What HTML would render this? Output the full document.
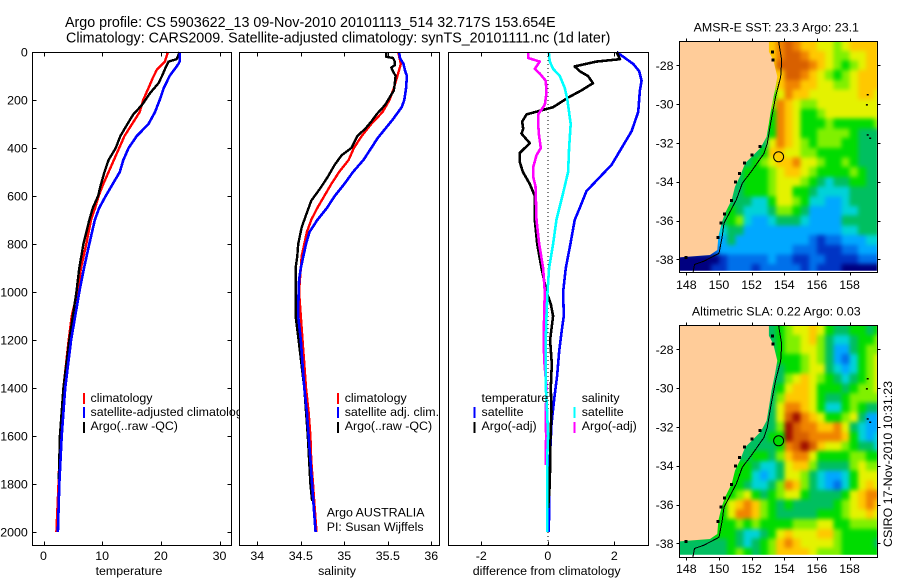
<!DOCTYPE html>
<html>
<head>
<meta charset="utf-8">
<title>Argo profile</title>
<style>
html,body{margin:0;padding:0;background:#fff}
svg{display:block}
text{font-family:"Liberation Sans",sans-serif;font-size:12.4px;fill:#000}
</style>
</head>
<body>
<svg id="fig" xmlns="http://www.w3.org/2000/svg" width="900" height="580" viewBox="0 0 900 580">
<defs>
<filter id="map-smooth" filterUnits="userSpaceOnUse" x="640" y="0" width="260" height="580" color-interpolation-filters="sRGB"><feGaussianBlur stdDeviation="2.2"/></filter>
</defs>
<rect x="0" y="0" width="900" height="580" fill="#fff"/>
<text x="65" y="27" style="font-size:14.3px">Argo profile: CS 5903622_13 09-Nov-2010 20101113_514 32.717S 153.654E</text>
<text x="66" y="42.5" style="font-size:14.3px">Climatology: CARS2009. Satellite-adjusted climatology: synTS_20101111.nc (1d later)</text>
<g id="layer"></g>
</svg>
<script>
const _ = null;
// temperature panel
const depthTempClim = [0,40,75,110,150,200,250,300,350,400,450,500,550,600,650,700,800,900,1000,1100,1200,1400,1600,1800,2000];
const tempClim = [21.2,20.7,19.3,18.6,17.9,17,16.4,15.1,13.8,12.9,12,11.1,10.2,9.4,8.8,8.1,7.3,6.4,5.8,4.8,4.3,3.4,2.85,2.55,2.2];
const depthTempSat = [0,40,50,100,150,200,250,300,350,400,450,500,550,600,650,700,800,900,1000,1100,1200,1400,1600,1800,2000];
const tempSat = [23.2,23.2,23,21.5,20.5,19.8,19,17.9,15.9,14.5,13.6,13,11.8,10.6,9.5,8.75,7.8,6.9,6.1,5.4,4.7,3.7,3.1,2.7,2.45];
const depthTempArgo = [0,30,40,60,100,130,170,220,260,300,350,400,450,500,550,600,650,700,800,900,1000,1200,1400,1600,1780];
const tempArgo = [23.2,22.7,21.3,20.9,20.2,19.6,18.2,16.8,15.3,14.3,13.1,12.3,11.1,10.4,9.8,9.3,8.4,7.8,6.8,6.1,5.6,4.4,3.4,2.8,2.6];
// salinity panel
const depthSalClim = [0,50,100,150,200,250,300,350,400,450,500,550,600,650,700,750,800,850,900,950,1000,1100,1200,1300,1400,1500,1600,1700,1800,1900,2000];
const salClim = [35.62,35.65,35.61,35.57,35.52,35.44,35.31,35.2,35.11,35.05,34.94,34.85,34.77,34.69,34.62,34.57,34.54,34.51,34.5,34.49,34.48,34.5,34.52,34.54,34.56,34.59,34.61,34.62,34.64,34.66,34.68];
const depthSalSat = [0,25,50,80,100,150,200,230,280,320,360,400,450,500,550,600,650,700,750,800,850,900,950,1000,1100,1200,1300,1400,1500,1600,1700,1800,1900,2000];
const salSat = [35.63,35.64,35.68,35.7,35.72,35.71,35.69,35.66,35.56,35.47,35.38,35.31,35.22,35.1,35,34.89,34.8,34.69,34.6,34.56,34.53,34.5,34.48,34.475,34.47,34.5,34.52,34.54,34.57,34.59,34.61,34.63,34.65,34.67];
const depthSalArgo = [0,20,25,40,55,65,80,100,130,160,190,220,260,290,320,350,400,430,470,520,570,620,680,730,800,850,900,1000,1100,1200,1400,1600,1800,1870];
const salArgo = [35.48,35.48,35.56,35.58,35.58,35.54,35.56,35.59,35.58,35.57,35.52,35.47,35.37,35.31,35.24,35.15,35.08,34.97,34.89,34.81,34.72,34.62,34.56,34.51,34.47,34.46,34.44,34.44,34.44,34.475,34.54,34.58,34.61,34.63];
// difference panel
const depthDiffSalSat = [0,40,70,100,150,200,300,400,500,600,700,800,900,1000,1100,1200,1400,1500,1600,1700,2000];
const diffSalSat = [0.03,0.06,0.16,0.36,0.51,0.59,0.69,0.64,0.61,0.44,0.26,0.16,0.04,-0.01,-0.04,-0.06,-0.06,-0.02,0.01,-0.02,-0.02];
const depthDiffTempSat = [0,10,50,80,120,160,250,330,400,470,500,580,650,700,800,900,1000,1100,1150,1250,1350,1450,1550,1700,2000];
const diffTempSat = [2.07,2.17,2.57,2.75,2.82,2.77,2.72,2.52,2.22,1.92,1.71,1.16,0.96,0.81,0.68,0.54,0.46,0.48,0.43,0.34,0.28,0.19,0.11,0.06,0.03];
const depthDiffTempArgo = [0,30,40,60,80,100,130,160,190,230,260,290,320,340,380,420,460,500,550,600,700,800,900,1000,1050,1100,1200,1300,1400,1500,1600,1800,1900];
const diffTempArgo = [2.07,2.17,1.46,0.81,0.96,1.21,1.36,1.01,0.61,0.16,-0.64,-0.77,-0.74,-0.79,-0.54,-0.84,-0.84,-0.75,-0.54,-0.39,-0.39,-0.32,-0.19,-0.04,0.09,0.16,0.07,0.12,0.09,0.11,0.08,0.06,0.01];
const depthDiffSalArgo = [0,25,40,70,90,120,170,220,260,300,340,400,430,480,520,560,700,800,900,1000,1100,1230,1300,1400,1500,1600,1720];
const diffSalArgo = [-0.59,-0.59,-0.24,-0.39,-0.24,-0.06,-0.04,-0.09,-0.29,-0.29,-0.27,-0.21,-0.34,-0.44,-0.44,-0.37,-0.34,-0.26,-0.14,-0.09,-0.11,-0.12,-0.1,-0.04,-0.06,-0.05,-0.06];
const diffZeroDepths = [0,2054];
// tick labels
const depthTicks = [0,200,400,600,800,1000,1200,1400,1600,1800,2000];
const tempTicks = [0,10,20,30];
const salTicks = [34,34.5,35,35.5,36];
const diffTicks = [-2,0,2];
const lonTicks = [148,150,152,154,156,158];
const latTicks = [-28,-30,-32,-34,-36,-38];
// map fields: colour level per half-degree cell (west to east, north to south)
const sstRows = [
[_,_,_,_,_,_,_,_,_,_,_,9,10,11,10,9,9,8,8,7,8,9,9,9,9],
[_,_,_,_,_,_,_,_,_,_,_,9,10,11,11,10,9,9,8,7,7,8,8,9,9],
[_,_,_,_,_,_,_,_,_,_,_,9,11,11,11,11,10,9,8,7,6,7,8,9,9],
[_,_,_,_,_,_,_,_,_,_,_,9,9,11,11,10,9,8,7,6,7,8,9,9,9],
[_,_,_,_,_,_,_,_,_,_,_,7,9,10,10,9,9,8,8,7,7,8,9,9,9],
[_,_,_,_,_,_,_,_,_,_,_,6,8,10,9,9,8,8,8,8,8,8,9,9,8],
[_,_,_,_,_,_,_,_,_,_,_,7,10,9,8,7,7,8,8,8,8,8,8,8,8],
[_,_,_,_,_,_,_,_,_,_,_,6,10,9,8,6,6,7,8,8,8,8,8,8,8],
[_,_,_,_,_,_,_,_,_,_,_,6,10,9,8,6,6,6,7,6,6,6,6,6,7],
[_,_,_,_,_,_,_,_,_,_,5,6,10,9,8,6,6,7,7,7,7,6,5,5,5],
[_,_,_,_,_,_,_,_,_,_,5,8,10,9,8,7,6,7,7,7,6,6,5,5,5],
[_,_,_,_,_,_,_,_,_,5,6,9,9,8,8,7,7,6,6,6,6,6,5,5,5],
[_,_,_,_,_,_,_,_,5,6,7,8,9,9,10,8,8,7,6,6,7,6,5,5,5],
[_,_,_,_,_,_,_,5,6,6,6,7,8,9,9,8,7,6,6,6,6,7,6,5,5],
[_,_,_,_,_,_,5,5,6,6,6,7,8,8,8,7,6,5,4,5,5,6,6,5,5],
[_,_,_,_,_,_,5,5,6,6,6,7,8,8,6,6,5,4,4,4,4,5,5,5,5],
[_,_,_,_,_,_,5,5,5,4,4,6,8,8,7,6,4,4,3,3,4,5,5,5,5],
[_,_,_,_,_,5,6,5,4,4,4,5,7,7,6,5,3,3,3,3,4,4,5,5,5],
[_,_,_,_,_,5,6,7,4,3,3,4,5,5,5,4,3,3,3,3,5,5,5,5,5],
[_,_,_,_,_,4,5,5,3,3,3,3,3,3,3,3,3,3,3,3,4,4,5,5,5],
[_,_,_,_,3,3,5,3,3,3,3,3,3,3,3,3,2,1,2,2,3,3,3,4,4],
[_,_,_,2,2,3,3,3,3,3,3,3,3,3,2,2,2,1,1,1,2,2,3,3,3],
[0,0,0,0,0,1,2,2,2,2,2,3,2,2,1,1,2,2,1,1,1,1,2,2,2],
[0,0,0,0,1,1,2,2,2,1,2,2,2,2,2,1,2,1,1,1,0,0,0,0,0]
];
const slaRows = [
[_,_,_,_,_,_,_,_,_,_,_,5,6,7,8,8,9,8,6,5,5,6,6,5,6],
[_,_,_,_,_,_,_,_,_,_,_,5,6,7,7,8,9,7,5,4,4,5,6,6,7],
[_,_,_,_,_,_,_,_,_,_,_,5,6,7,7,8,8,7,5,3,3,5,6,7,7],
[_,_,_,_,_,_,_,_,_,_,_,5,6,6,6,7,8,7,5,3,2,4,6,7,8],
[_,_,_,_,_,_,_,_,_,_,_,5,5,6,6,7,8,8,5,4,3,4,6,7,8],
[_,_,_,_,_,_,_,_,_,_,_,5,5,7,8,9,8,7,6,5,4,5,6,7,8],
[_,_,_,_,_,_,_,_,_,_,_,5,6,8,9,9,8,6,6,6,5,6,7,7,8],
[_,_,_,_,_,_,_,_,_,_,_,5,7,9,9,9,8,6,5,5,6,7,7,7,7],
[_,_,_,_,_,_,_,_,_,_,_,5,8,10,10,9,8,6,4,4,6,7,6,5,5],
[_,_,_,_,_,_,_,_,_,_,5,5,8,11,12,10,9,8,6,6,7,8,5,3,3],
[_,_,_,_,_,_,_,_,_,_,5,5,7,12,11,10,10,9,9,10,8,5,4,3,3],
[_,_,_,_,_,_,_,_,_,5,5,6,6,12,11,11,10,10,10,10,9,6,4,3,4],
[_,_,_,_,_,_,_,_,5,5,5,5,6,10,11,12,11,9,8,8,7,6,5,5,4],
[_,_,_,_,_,_,_,5,5,6,6,5,7,9,10,10,8,6,6,6,6,7,7,6,6],
[_,_,_,_,_,_,5,6,6,5,4,4,5,8,9,9,7,5,5,5,5,7,8,7,7],
[_,_,_,_,_,_,6,6,6,4,3,4,5,8,8,7,5,4,3,3,4,6,8,8,8],
[_,_,_,_,_,_,6,6,5,4,4,5,7,10,9,7,5,4,3,2,4,6,8,9,8],
[_,_,_,_,_,6,6,7,8,6,5,6,7,8,8,6,5,5,5,5,6,8,9,10,10],
[_,_,_,_,_,6,8,9,10,9,7,6,5,6,5,5,5,5,5,6,7,8,9,10,9],
[_,_,_,_,_,6,8,10,10,9,7,6,5,5,5,5,5,6,6,6,7,8,8,9,8],
[_,_,_,_,6,6,6,7,6,7,6,6,6,6,7,7,7,8,8,6,6,7,7,7,7],
[_,_,_,6,6,6,6,5,4,4,5,6,8,9,8,8,8,9,9,7,6,6,6,6,6],
[5,5,5,5,5,5,6,5,4,5,6,7,9,10,9,8,8,8,8,7,6,6,6,6,5],
[5,5,5,5,5,5,6,7,6,5,6,7,9,9,9,9,8,7,7,7,6,6,6,6,6]
];
const levelColors = ['#000080','#0034c4','#0070ea','#00a8ff','#00d2d8','#00bf60','#00dc00','#80f000','#e4f200','#ffc800','#f08400','#d86000','#a01000'];
// coastline, 200 m isobath, islands (lon, lat)
const coastLon = [153.06,153.06,153.33,153.57,153.43,153.22,153.06,152.92,152.55,152.05,151.6,151.3,150.98,150.78,150.37,150.16,149.96,149.9,149.45,147.57,147.4,147.4];
const coastLat = [-26.7,-27.3,-27.73,-28.58,-29.27,-30.13,-30.99,-31.68,-32.25,-32.68,-33.05,-33.7,-34.25,-34.94,-35.63,-36.14,-36.83,-37.52,-37.78,-37.9,-37.9,-26.7];
const isoLon = [153.64,153.84,153.78,153.47,153.16,152.96,152.76,152.04,151.43,151.06,150.31,150.2,150,149.08,148.5,148.4];
const isoLat = [-26.7,-27.73,-28.58,-29.62,-30.99,-32.02,-32.54,-33.4,-34.08,-34.94,-36.14,-36.83,-37.69,-38.1,-38.27,-38.75];
const coastSpeckLon = [153.3,153.35,152.55,152.05,151.6,151.3,151.05,150.8,150.37,150.16,149.96,148];
const coastSpeckLat = [-27.35,-27.75,-32.2,-32.65,-33.05,-33.6,-34.05,-35,-35.7,-36.15,-36.9,-37.93];
const isleLon = [159.05,159,159.05,159.2];
const isleLat = [-29.48,-30,-31.55,-31.72];
const argoLon = [153.654];
const argoLat = [-32.717];

const NS = 'http://www.w3.org/2000/svg';
const layer = document.getElementById('layer');
function mk(parent, tag, attrs){
  const el = document.createElementNS(NS, tag);
  for (const k in attrs) el.setAttribute(k, attrs[k]);
  parent.appendChild(el);
  return el;
}
function linear(d0, d1, r0, r1){ return v => r0 + (v - d0) * (r1 - r0) / (d1 - d0); }
const yDepth = linear(0, 2000, 52, 532);

function drawPanel(name, box, xScale, xTicks, xLabel, xLabelX, showY){
  const g = mk(layer, 'g', {});
  
  
  const bg = mk(g, 'rect', {x: box.l, y: box.t, width: box.r - box.l, height: box.b - box.t, fill: '#fff'});
  
  
  const marks = mk(g, 'g', {});
  
  
  const frame = mk(g, 'rect', {x: box.l, y: box.t, width: box.r - box.l, height: box.b - box.t, fill: 'none', stroke: '#000', 'stroke-width': 1, 'shape-rendering': 'crispEdges'});
  
  
  xTicks.forEach(v => {
    const x = Math.round(xScale(v)) + 0.5;
    const t = mk(g, 'path', {d: `M${x} ${box.b}v-4M${x} ${box.t}v4`, stroke: '#000', fill: 'none', 'shape-rendering': 'crispEdges'});
    
    
    const lab = mk(g, 'text', {x: xScale(v), y: 560, 'text-anchor': 'middle'});
    lab.textContent = String(v);
    
    
  });
  if (showY) {
    depthTicks.forEach(v => {
      const y = Math.round(yDepth(v)) + 0.5;
      const t = mk(g, 'path', {d: `M${box.l} ${y}h4M${box.r} ${y}h-4`, stroke: '#000', fill: 'none', 'shape-rendering': 'crispEdges'});
      
      
      const lab = mk(g, 'text', {x: 27.8, y: yDepth(v) + 4.5, 'text-anchor': 'end'});
      lab.textContent = String(v);
      
      
    });
  }
  const xl = mk(g, 'text', {x: xLabelX, y: 575, 'text-anchor': 'middle'});
  xl.textContent = xLabel;
  
  
  return {g, marks};
}
function drawLine(group, name, xs, depths, xScale, color, width){
  const pts = xs.map((v, i) => xScale(v).toFixed(1) + ',' + yDepth(depths[i]).toFixed(1)).join(' ');
  const pl = mk(group, 'polyline', {points: pts, fill: 'none', stroke: color, 'stroke-width': width, 'stroke-linejoin': 'round', 'shape-rendering': 'crispEdges'});
  
  
  return pl;
}
function drawLegend(g, name, mx, tx, rows){
  rows.forEach((r, i) => {
    const y = [393, 407, 422][i];
    const by = [401.8, 415.8, 430.2][i];
    if (r.color) {
      const m = mk(g, 'rect', {x: mx, y: y, width: 2, height: 11, fill: r.color});
      
      
    }
    const t = mk(g, 'text', {x: tx, y: by});
    t.textContent = r.text;
    
    
  });
}

// temperature
const xTemp = linear(0, 30, 43.5, 219.5);
const p1 = drawPanel('temperature', {l: 32.5, r: 231.5, t: 52.5, b: 545.5}, xTemp, tempTicks, 'temperature', 129, true);
drawLine(p1.marks, 'temperature-climatology-line', tempClim, depthTempClim, xTemp, '#f00', 2.4);
drawLine(p1.marks, 'temperature-argo-line', tempArgo, depthTempArgo, xTemp, '#000', 2.4);
drawLine(p1.marks, 'temperature-satellite-line', tempSat, depthTempSat, xTemp, '#00f', 2.6);
drawLegend(p1.g, 'temperature-legend', 83, 90.5, [
  {color: '#f00', text: 'climatology'},
  {color: '#00f', text: 'satellite-adjusted climatology'},
  {color: '#000', text: 'Argo(..raw -QC)'}
]);

// salinity
const xSal = linear(34, 36, 257.3, 431.3);
const p2 = drawPanel('salinity', {l: 239.5, r: 439.5, t: 52.5, b: 545.5}, xSal, salTicks, 'salinity', 337, false);
drawLine(p2.marks, 'salinity-climatology-line', salClim, depthSalClim, xSal, '#f00', 2.4);
drawLine(p2.marks, 'salinity-argo-line', salArgo, depthSalArgo, xSal, '#000', 2.4);
drawLine(p2.marks, 'salinity-satellite-line', salSat, depthSalSat, xSal, '#00f', 2.6);
drawLegend(p2.g, 'salinity-legend', 337, 344.7, [
  {color: '#f00', text: 'climatology'},
  {color: '#00f', text: 'satellite adj. clim.'},
  {color: '#000', text: 'Argo(..raw -QC)'}
]);
[['Argo AUSTRALIA', 516.7, 'data-source-label'], ['PI: Susan Wijffels', 531, 'principal-investigator-label']].forEach(a => {
  const t = mk(p2.g, 'text', {x: 326.7, y: a[1]});
  t.textContent = a[0];
  
  
});

// difference
const xDiff = linear(-2, 2, 481.3, 614.3);
const p3 = drawPanel('difference', {l: 448.5, r: 648.5, t: 52.5, b: 545.5}, xDiff, diffTicks, 'difference from climatology', 546.7, false);
const zero = mk(p3.marks, 'line', {x1: xDiff(0), x2: xDiff(0), y1: yDepth(diffZeroDepths[0]), y2: yDepth(diffZeroDepths[1]), stroke: '#000', 'stroke-width': 1, 'stroke-dasharray': '1 3', 'shape-rendering': 'crispEdges'});


drawLine(p3.marks, 'difference-temp-satellite-line', diffTempSat, depthDiffTempSat, xDiff, '#00f', 2.6);
drawLine(p3.marks, 'difference-temp-argo-line', diffTempArgo, depthDiffTempArgo, xDiff, '#000', 2.6);
drawLine(p3.marks, 'difference-sal-argo-line', diffSalArgo, depthDiffSalArgo, xDiff, '#f0f', 2.6);
drawLine(p3.marks, 'difference-sal-satellite-line', diffSalSat, depthDiffSalSat, xDiff, '#0ff', 2.6);
drawLegend(p3.g, 'difference-temperature-legend', 473.5, 481.5, [
  {color: null, text: 'temperature'},
  {color: '#00f', text: 'satellite'},
  {color: '#000', text: 'Argo(-adj)'}
]);
drawLegend(p3.g, 'difference-salinity-legend', 573.5, 581.7, [
  {color: null, text: 'salinity'},
  {color: '#0ff', text: 'satellite'},
  {color: '#f0f', text: 'Argo(-adj)'}
]);

// maps
function drawMap(name, box, lat28y, rows, titleText, titleY, labelY, fillMarker){
  const xLon = linear(148, 158, 686.3, 849.6);
  const yLat = linear(-28, -38, lat28y, lat28y + 194);
  const g = mk(layer, 'g', {});
  
  
  const cp = mk(g, 'clipPath', {id: name + '-clip'});
  mk(cp, 'rect', {x: box.l, y: box.t, width: box.r - box.l, height: box.b - box.t});
  const cp2 = mk(g, 'clipPath', {id: name + '-data-clip'});
  mk(cp2, 'rect', {x: box.l, y: box.t, width: xLon(159.67) - box.l, height: yLat(-38.59) - box.t});
  const clipped = mk(g, 'g', {'clip-path': `url(#${name}-data-clip)`});
  const cells = mk(clipped, 'g', {filter: 'url(#map-smooth)', 'shape-rendering': 'crispEdges'});
  
  
  rows.forEach((row, r) => {
    const under = row.find(v => v !== null);
    row.forEach((val, k) => {
      const lvl = val === null ? under : val;
      const pad = 12;
      const x0 = xLon(147.5 + k * 0.5) - (k === 0 ? pad : 0);
      const x1 = xLon(148 + k * 0.5) + (k === row.length - 1 ? pad : 0);
      const y0 = yLat(-26.75 - r * 0.5) - (r === 0 ? pad : 0);
      const y1 = yLat(-27.25 - r * 0.5) + (r === rows.length - 1 ? pad : 0);
      const c = mk(cells, 'rect', {x: x0.toFixed(1), y: y0.toFixed(1), width: (x1 - x0 + 0.6).toFixed(1), height: (y1 - y0 + 0.6).toFixed(1), fill: levelColors[lvl]});
      
      
    });
  });
  const geo = mk(g, 'g', {'clip-path': `url(#${name}-clip)`});
  
  
  const land = mk(geo, 'polygon', {points: coastLon.map((v, i) => xLon(v).toFixed(1) + ',' + yLat(coastLat[i]).toFixed(1)).join(' '), fill: '#ffcc99'});
  
  
  const iso = mk(geo, 'polyline', {points: isoLon.map((v, i) => xLon(v).toFixed(1) + ',' + yLat(isoLat[i]).toFixed(1)).join(' '), fill: 'none', stroke: '#000', 'stroke-width': 1, 'shape-rendering': 'crispEdges'});
  
  
  coastSpeckLon.forEach((v, i) => {
    const s = mk(geo, 'rect', {x: (xLon(v) - 2).toFixed(1), y: (yLat(coastSpeckLat[i]) - 2).toFixed(1), width: 3, height: 3, fill: '#000', 'shape-rendering': 'crispEdges'});
    
    
  });
  isleLon.forEach((v, i) => {
    const s = mk(geo, 'rect', {x: xLon(v).toFixed(1), y: yLat(isleLat[i]).toFixed(1), width: 2, height: 1.5, fill: '#000'});
    
    
  });
  const marker = mk(geo, 'circle', {cx: xLon(argoLon[0]), cy: yLat(argoLat[0]), r: 5, fill: fillMarker, stroke: '#000', 'stroke-width': 1});
  
  
  const frame = mk(g, 'rect', {x: box.l, y: box.t, width: box.r - box.l, height: box.b - box.t, fill: 'none', stroke: '#000', 'shape-rendering': 'crispEdges'});
  
  
  lonTicks.forEach(v => {
    const x = Math.round(xLon(v)) + 0.5;
    const t = mk(g, 'path', {d: `M${x} ${box.b}v3M${x} ${box.t}v-3`, stroke: '#000', fill: 'none', 'shape-rendering': 'crispEdges'});
    
    
    const lab = mk(g, 'text', {x: xLon(v), y: labelY, 'text-anchor': 'middle'});
    lab.textContent = String(v);
    
    
  });
  latTicks.forEach(v => {
    const y = Math.round(yLat(v)) + 0.5;
    const t = mk(g, 'path', {d: `M${box.l} ${y}h-3M${box.r} ${y}h3`, stroke: '#000', fill: 'none', 'shape-rendering': 'crispEdges'});
    
    
    const lab = mk(g, 'text', {x: 673.5, y: yLat(v) + 4.5, 'text-anchor': 'end'});
    lab.textContent = String(v);
    
    
  });
  const tt = mk(g, 'text', {x: 776.3, y: titleY, 'text-anchor': 'middle'});
  tt.textContent = titleText;
  
  
}
drawMap('sst', {l: 679.5, r: 877.5, t: 41.5, b: 272.5}, 65.3, sstRows, 'AMSR-E SST: 23.3 Argo: 23.1', 31.7, 289, 'none');
drawMap('sla', {l: 679.5, r: 877.5, t: 325.5, b: 557.5}, 349.3, slaRows, 'Altimetric SLA: 0.22 Argo: 0.03', 315.7, 573, '#00dc00');

const stamp = mk(layer, 'text', {transform: 'translate(892 547) rotate(-90)'});
stamp.textContent = 'CSIRO 17-Nov-2010 10:31:23';


</script>
</body>
</html>
